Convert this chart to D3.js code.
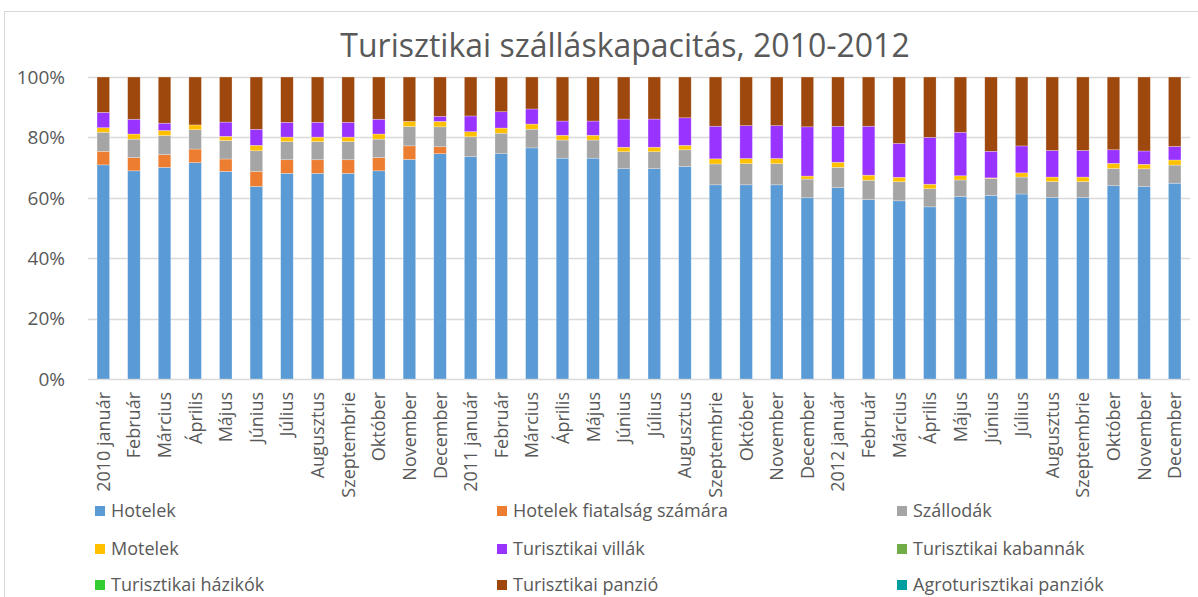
<!DOCTYPE html>
<html>
<head>
<meta charset="utf-8">
<script src="https://cdn.jsdelivr.net/npm/d3@7"></script>
<style>
  body { margin: 0; background: #fff; }
  svg { display: block; font-family: 'Open Sans', sans-serif; }
</style>
</head>
<body>
<div class="chart"></div>
<script>
// month labels, one per bar
const months = ["január", "Február", "Március", "Április", "Május", "Június", "Július", "Augusztus", "Szeptembrie", "Október", "November", "December"];
const labels = [];
[2010, 2011, 2012].forEach(y => months.forEach((m, i) => labels.push(i === 0 ? y + " " + m : m)));

// series values (%)
const hotelek   = [70.9,69.0,70.1,71.8,68.6,63.7,68.1,68.1,68.1,69.0,72.7,74.6, 73.6,74.6,76.6,73.2,73.2,69.5,69.5,70.3,64.3,64.3,64.3,60.0, 63.3,59.4,59.0,57.0,60.4,60.8,61.2,60.0,60.0,64.0,63.7,64.9];
const fiatal    = [4.5,4.4,4.2,4.5,4.1,5.0,4.5,4.5,4.5,4.4,4.5,2.3, 0,0,0,0,0,0,0,0,0,0,0,0, 0,0,0,0,0,0,0,0,0,0,0,0];
const szallodak = [6.3,6.1,6.3,6.4,6.1,6.8,6.0,6.0,6.0,6.1,6.4,6.6, 6.6,6.8,6.2,6.0,6.0,5.6,5.6,5.5,6.9,7.0,7.0,6.2, 6.7,6.4,6.3,6.0,5.5,5.6,5.6,5.3,5.3,5.7,5.9,6.0];
const motelek   = [1.5,1.7,1.7,1.6,1.4,1.8,1.5,1.5,1.5,1.7,1.7,1.8, 1.7,1.7,1.7,1.6,1.6,1.5,1.5,1.5,1.7,1.7,1.7,1.0, 1.7,1.7,1.5,1.5,1.4,0.2,1.4,1.5,1.5,1.7,1.5,1.7];
const villak    = [5.1,4.9,2.4,0,4.7,5.3,4.9,4.9,4.9,4.9,0,1.7, 5.2,5.4,5.0,4.7,4.7,9.3,9.3,9.1,10.8,10.9,10.9,16.3, 11.9,16.2,11.2,15.5,14.4,8.8,8.9,8.8,8.8,4.5,4.4,4.5];
const kabannak  = new Array(36).fill(0);
const hazikok   = new Array(36).fill(0);
const panzio    = [11.7,14.0,15.3,15.9,14.9,17.3,15.0,15.0,15.0,14.0,14.7,13.0, 12.9,11.5,10.6,14.6,14.6,13.9,13.9,13.5,16.3,16.1,16.1,16.5, 16.3,16.3,22.0,20.0,18.3,24.6,22.8,24.3,24.3,24.1,24.5,23.0];
const agro      = new Array(36).fill(0);

const seriesNames = ["Hotelek", "Hotelek fiatalság számára", "Szállodák", "Motelek", "Turisztikai villák", "Turisztikai kabannák", "Turisztikai házikók", "Turisztikai panzió", "Agroturisztikai panziók"];
const seriesValues = [hotelek, fiatal, szallodak, motelek, villak, kabannak, hazikok, panzio, agro];
const colors = ["#5B9BD5", "#ED7D31", "#A5A5A5", "#FFC000", "#9933FF", "#70AD47", "#33CC33", "#9E480E", "#009E9E"];
const yTicks = [0, 0.2, 0.4, 0.6, 0.8, 1];

const W = 1198, H = 597;
const plot = {left: 88, right: 1190, top: 77, bottom: 379};

const rows = labels.map((l, i) => {
  const r = {label: l};
  seriesNames.forEach((s, k) => r[s] = seriesValues[k][i]);
  return r;
});

const stacked = d3.stack().keys(seriesNames).offset(d3.stackOffsetExpand)(rows);

const x = d3.scaleBand().domain(labels.map((l, i) => i)).range([plot.left, plot.right]).paddingInner(0.59).paddingOuter(0.295);
const y = d3.scaleLinear().domain([0, 1]).range([plot.bottom, plot.top]);

const svg = d3.select('.chart').append('svg').attr('width', W).attr('height', H);

// chart area border
svg.append('rect').attr('x', 4.5).attr('y', 11.5).attr('width', 1240).attr('height', 620)
  .attr('fill', 'none').attr('stroke', '#d9d9d9');

svg.append('text').attr('x', 625).attr('y', 57).attr('text-anchor', 'middle')
  .attr('fill', '#595959').style('font-size', '32px').text('Turisztikai szálláskapacitás, 2010-2012');

// gridlines
svg.append('g').selectAll('line').data(yTicks).enter().append('line')
  .attr('x1', plot.left).attr('x2', plot.right)
  .attr('y1', d => Math.round(y(d)) + 0.5).attr('y2', d => Math.round(y(d)) + 0.5)
  .attr('stroke', '#d9d9d9').attr('stroke-width', 1.3);

svg.append('g').selectAll('text').data(yTicks).enter().append('text')
  .attr('x', 65).attr('y', d => y(d)).attr('dy', '0.36em').attr('text-anchor', 'end')
  .attr('fill', '#595959').style('font-size', '19px')
  .text(d => d3.format('.0%')(d));

// bars
svg.append('g').selectAll('g').data(stacked).enter().append('g')
  .attr('fill', (d, i) => colors[i])
  .selectAll('rect').data(d => d).enter().append('rect')
  .attr('x', (d, i) => x(i)).attr('width', x.bandwidth())
  .attr('y', d => y(d[1])).attr('height', d => Math.max(0, y(d[0]) - y(d[1])))
  .attr('stroke', '#fff').attr('stroke-opacity', 0.45).attr('stroke-width', 0.6);

// x labels
svg.append('g').selectAll('text').data(labels).enter().append('text')
  .attr('transform', (d, i) => 'translate(' + (x(i) + x.bandwidth() / 2) + ',392) rotate(-90)')
  .attr('dy', '0.36em').attr('text-anchor', 'end')
  .attr('fill', '#595959').style('font-size', '18px')
  .text(d => d);

// legend, 3 columns
const legend = svg.append('g').selectAll('g').data(seriesNames).enter().append('g')
  .attr('transform', (d, i) => 'translate(' + [95, 497, 897][i % 3] + ',' + [511, 549, 585][Math.floor(i / 3)] + ')');
legend.append('rect').attr('x', 0).attr('y', -5).attr('width', 10).attr('height', 10)
  .attr('fill', (d, i) => colors[i]);
legend.append('text').attr('x', 16).attr('dy', '0.36em').attr('fill', '#595959')
  .style('font-size', '18px').text(d => d);
</script>
</body>
</html>
